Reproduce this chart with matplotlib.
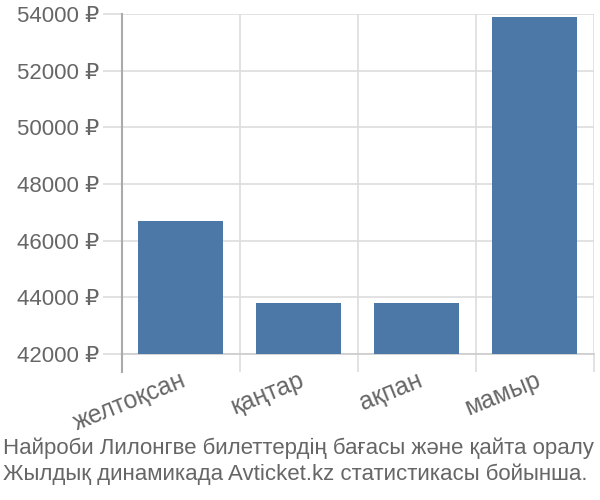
import matplotlib
matplotlib.use("Agg")
import matplotlib.pyplot as plt
import numpy as np

months = ["желтоқсан", "қаңтар", "ақпан", "мамыр"]
prices = [46700, 43800, 43800, 53900]
y_ticks = [42000, 44000, 46000, 48000, 50000, 52000, 54000]
caption = ["Найроби Лилонгве билеттердің бағасы және қайта оралу",
           "Жылдық динамикада Avticket.kz статистикасы бойынша."]

plt.rcParams['font.family'] = ['Liberation Sans', 'DejaVu Sans']

fig = plt.figure(figsize=(6, 5), dpi=100)
ax = fig.add_axes([0.203, 0.292, 0.787, 0.680])

x = np.arange(len(months))
ax.bar(x, prices, width=0.72, color="#4c78a8", zorder=3)

ax.set_xlim(-0.5, len(months) - 0.5)
ax.set_ylim(42000, 54000)
ax.set_yticks(y_ticks)
ax.set_yticklabels([f"{v} ₽" for v in y_ticks])
ax.set_xticks(x)
ax.set_xticklabels(months, rotation=22, ha="right", va="top", rotation_mode="anchor")
ax.set_xticks(np.arange(len(months) + 1) - 0.5, minor=True)

ax.grid(axis="y", color="#dddddd", linewidth=1.2, zorder=0)
ax.grid(axis="x", which="minor", color="#dddddd", linewidth=1.2, zorder=0)

ax.tick_params(axis="y", length=14, color="#dddddd", width=1.2, pad=2,
               labelsize=16, labelcolor="#666666")
ax.tick_params(axis="x", which="major", length=0, pad=10,
               labelsize=17.8, labelcolor="#666666")
ax.tick_params(axis="x", which="minor", length=13, color="#dddddd", width=1.2)

for s in ["top", "right"]:
    ax.spines[s].set_visible(False)
ax.spines["bottom"].set_color("#cccccc")
ax.spines["bottom"].set_linewidth(1.2)
ax.spines["left"].set_color("#aaaaaa")
ax.spines["left"].set_linewidth(1.5)
ax.spines["left"].set_bounds(42000, 54000)

# left axis line runs down past the plot like the grid ticks
ax.plot([-0.5, -0.5], [42000, 41370], color="#aaaaaa", lw=1.5, clip_on=False, zorder=4)

fig.text(0.005, 0.104, caption[0], fontsize=16, color="#666666", va="center")
fig.text(0.005, 0.052, caption[1], fontsize=16, color="#666666", va="center")

fig.savefig("out.png", dpi=100)
